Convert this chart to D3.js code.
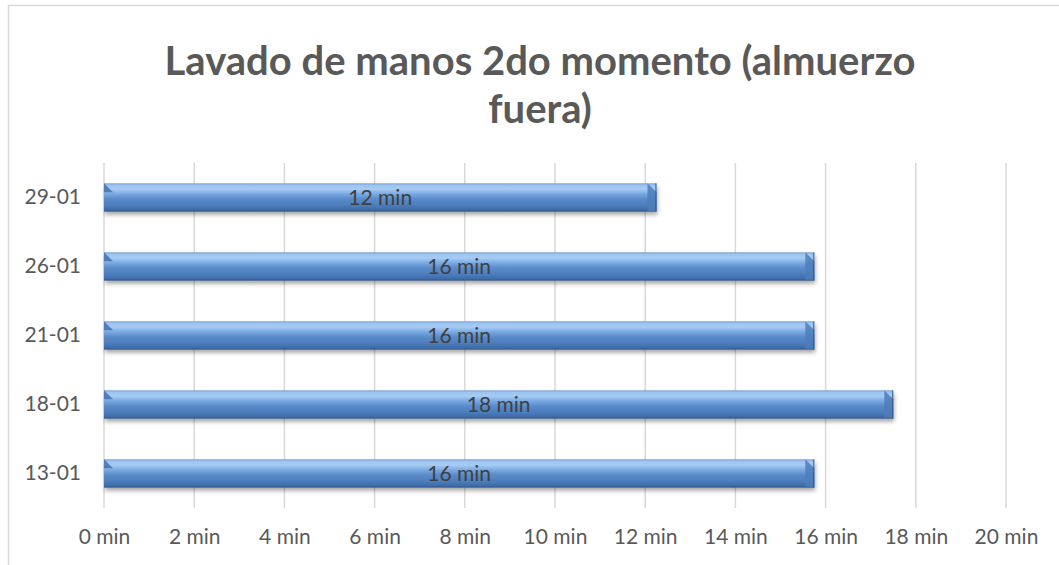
<!DOCTYPE html>
<html>
<head>
<meta charset="utf-8">
<script src="https://cdn.jsdelivr.net/npm/d3@7"></script>
<style>
  body { margin: 0; background: #fff; }
  svg { display: block; }
</style>
</head>
<body>
<div id="chart"></div>
<script>
// data
var categories = ["13-01", "18-01", "21-01", "26-01", "29-01"];
var minutes = [15.75, 17.5, 15.75, 15.75, 12.25];
var tickValues = [0, 2, 4, 6, 8, 10, 12, 14, 16, 18, 20];
var titleLines = ["Lavado de manos 2do momento (almuerzo", "fuera)"];

var width = 1059, height = 565;
var textColor = "#595959";
var font = "Lato, 'Open Sans', sans-serif";

var svg = d3.select("#chart").append("svg")
  .attr("width", width).attr("height", height);

var defs = svg.append("defs");
var grad = defs.append("linearGradient").attr("id", "barGrad")
  .attr("x1", "0%").attr("y1", "0%").attr("x2", "0%").attr("y2", "100%");
[["0%", "#6d98cf"], ["6%", "#9cc3ef"], ["20%", "#a6ccf4"], ["38%", "#78a7e1"],
 ["55%", "#5a8cca"], ["80%", "#4a7aba"], ["94%", "#3f6ba6"], ["100%", "#2e5283"]]
  .forEach(function(s) {
    grad.append("stop").attr("offset", s[0]).attr("stop-color", s[1]);
  });

var shadow = defs.append("filter").attr("id", "barShadow")
  .attr("x", "-5%").attr("y", "-30%").attr("width", "110%").attr("height", "180%");
shadow.append("feDropShadow").attr("dx", 1).attr("dy", 3)
  .attr("stdDeviation", 2).attr("flood-color", "#000").attr("flood-opacity", 0.35);

// outer chart border
svg.append("rect").attr("x", 8.5).attr("y", 5.5)
  .attr("width", 1100).attr("height", 600)
  .attr("fill", "none").attr("stroke", "#d9d9d9").attr("stroke-width", 1.5);

// title
svg.append("g").selectAll("text").data(titleLines).enter().append("text")
  .attr("x", 540).attr("y", function(d, i) { return 75 + i * 48; })
  .attr("text-anchor", "middle")
  .attr("font-family", font)
  .attr("font-weight", "bold").attr("font-size", "40px")
  .attr("fill", textColor).text(function(d) { return d; });

var x = d3.scaleLinear().domain([0, 20]).range([104, 1006]);
var y = d3.scaleBand().domain(categories.slice().reverse())
  .range([163, 508]).paddingInner(0.59).paddingOuter(0.295);

// gridlines
svg.append("g").selectAll("line").data(tickValues).enter().append("line")
  .attr("x1", function(d) { return x(d); }).attr("x2", function(d) { return x(d); })
  .attr("y1", 163).attr("y2", 508)
  .attr("stroke", "#d9d9d9").attr("stroke-width", 1.5);

// x axis labels
var xAxis = d3.axisBottom(x).tickValues(tickValues)
  .tickFormat(function(d) { return d + " min"; }).tickSize(0).tickPadding(0);
var gx = svg.append("g").attr("transform", "translate(0,529)").call(xAxis);
gx.select(".domain").remove();
gx.selectAll("text").attr("font-family", font)
  .attr("font-size", "21px").attr("fill", textColor);

// y axis labels
var yAxis = d3.axisLeft(y).tickSize(0).tickPadding(0);
var gy = svg.append("g").attr("transform", "translate(81,0)").call(yAxis);
gy.select(".domain").remove();
gy.selectAll("text").attr("font-family", font)
  .attr("font-size", "21px").attr("fill", textColor);

var rows = categories.map(function(c, i) { return { cat: c, val: minutes[i] }; });
var bev = 9;

var bars = svg.append("g").selectAll("g.bar").data(rows).enter().append("g")
  .attr("class", "bar");

bars.append("rect")
  .attr("x", x(0)).attr("y", function(d) { return y(d.cat); })
  .attr("width", function(d) { return x(d.val) - x(0); })
  .attr("height", y.bandwidth())
  .attr("fill", "url(#barGrad)").attr("filter", "url(#barShadow)");

// right end bevel face
bars.append("path")
  .attr("d", function(d) {
    var x1 = x(d.val), y0 = y(d.cat), y1 = y0 + y.bandwidth();
    return "M" + (x1 - bev) + "," + y0 + "L" + x1 + "," + (y0 + bev) +
      "L" + x1 + "," + (y1 - 1) + "L" + (x1 - bev) + "," + (y1 - 1) + "Z";
  })
  .attr("fill", "#4d7dba").attr("opacity", 0.85);
bars.append("line")
  .attr("x1", function(d) { return x(d.val) - 0.5; })
  .attr("x2", function(d) { return x(d.val) - 0.5; })
  .attr("y1", function(d) { return y(d.cat); })
  .attr("y2", function(d) { return y(d.cat) + y.bandwidth(); })
  .attr("stroke", "#2f5687").attr("stroke-width", 1);

// left end bevel
bars.append("path")
  .attr("d", function(d) {
    var x0 = x(0), y0 = y(d.cat);
    return "M" + x0 + "," + y0 + "L" + (x0 + bev) + "," + (y0 + bev) +
      "L" + x0 + "," + (y0 + bev) + "Z";
  })
  .attr("fill", "#3f6dab").attr("opacity", 0.8);

// value labels
bars.append("text")
  .attr("x", function(d) { return (x(0) + x(d.val)) / 2; })
  .attr("y", function(d) { return y(d.cat) + y.bandwidth() / 2; })
  .attr("dy", "0.35em").attr("text-anchor", "middle")
  .attr("font-family", font)
  .attr("font-size", "21px").attr("fill", "#404040")
  .text(function(d) { return Math.round(d.val) + " min"; });
</script>
</body>
</html>
